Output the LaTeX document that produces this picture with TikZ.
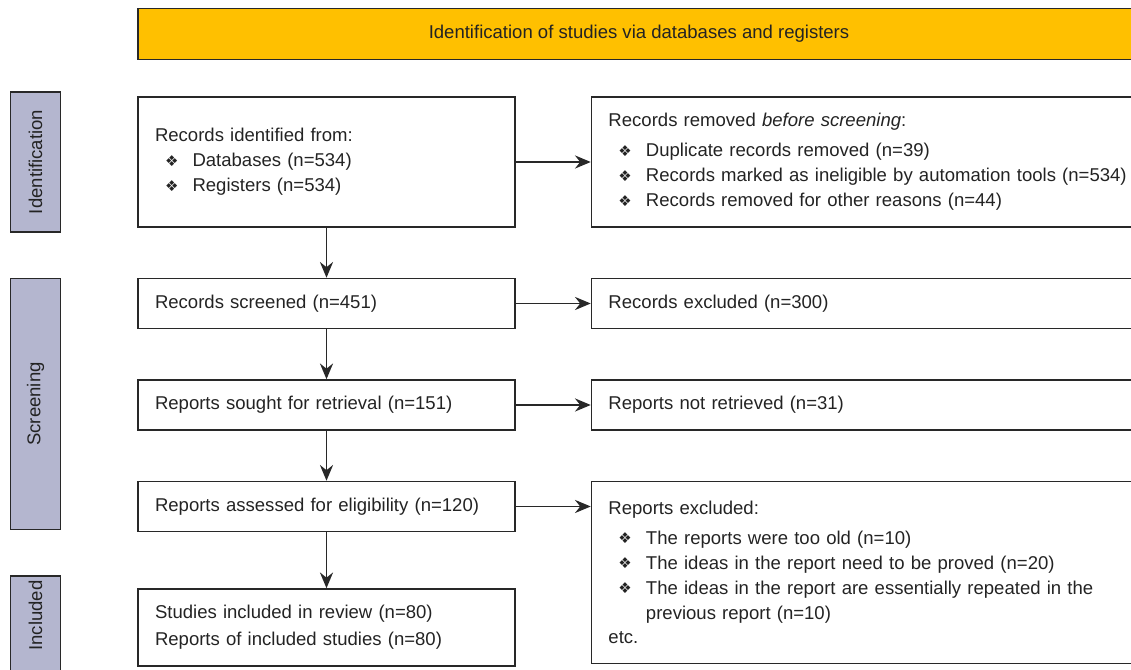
\documentclass[tikz,border=0pt]{standalone}
\usepackage{fontspec}
\setmainfont{Liberation Sans}
\newfontfamily\bulfont{DejaVu Sans}
\usetikzlibrary{positioning,chains,arrows.meta}

\definecolor{hdrorange}{RGB}{255,192,0}
\definecolor{phaseblue}{RGB}{180,182,207}
\definecolor{lineg}{RGB}{40,40,40}
\definecolor{textg}{RGB}{35,35,35}

\newcommand{\bul}{\makebox[0.75cm][l]{\hspace*{0.2cm}\raisebox{0.2pt}{\fontsize{8.5pt}{8.5pt}\selectfont\bulfont ❖}}}

\begin{document}
\begin{tikzpicture}[box/.style={draw=lineg, line width=0.85pt, rectangle, align=left, text width=6.86cm, inner xsep=0.34cm, inner ysep=2pt, minimum height=1cm},
  excl/.style={box, text width=10.8cm},
  phase/.style={draw=lineg, line width=0.85pt, fill=phaseblue, minimum width=1cm, inner sep=0pt},
  header/.style={draw=lineg, line width=0.85pt, fill=hdrorange, minimum width=20.04cm, minimum height=1.02cm},
  conn/.style={->, draw=lineg, line width=0.85pt},
  >={Stealth[length=9pt,width=7.5pt,inset=3pt]},
  font=\fontsize{10.55pt}{14.2pt}\selectfont, text=textg,
  start chain=going below, node distance=1cm]
  \useasboundingbox (0,0) rectangle (22.62,-13.4);

  % left column
  \node[box, on chain, minimum height=2.6cm] (b1) at (6.53,-3.24) {Records identified from:\\
    \bul Databases (n=534)\\
    \bul Registers (n=534)};
  \node[box, on chain] (b2) {Records screened (n=451)};
  \node[box, on chain] (b3) {Reports sought for retrieval (n=151)};
  \node[box, on chain] (b4) {Reports assessed for eligibility (n=120)};
  \node[box, on chain, yshift=-0.12cm, minimum height=1.54cm] (b5) {Studies included in review (n=80)\\[0.04cm]
    Reports of included studies (n=80)};

  % right column
  \node[excl, right=1.5cm of b1, minimum height=2.6cm] (r1) {Records removed \textit{before screening}:\\[0.1cm]
    \bul Duplicate records removed (n=39)\\
    \bul Records marked as ineligible by automation tools (n=534)\\
    \bul Records removed for other reasons (n=44)};
  \node[excl, right=1.5cm of b2] (r2) {Records excluded (n=300)};
  \node[excl, right=1.5cm of b3] (r3) {Reports not retrieved (n=31)};
  \node[excl, anchor=north west, minimum height=3.64cm] (r4) at ([xshift=1.5cm]b4.north east) {Reports excluded:\\[0.1cm]
    \bul The reports were too old (n=10)\\
    \bul The ideas in the report need to be proved (n=20)\\
    \bul The ideas in the report are essentially repeated in the\\
    \hspace*{0.75cm}previous report (n=10)\\
    etc.};

  % header and phases
  \node[header, anchor=south west] (hdr) at ([yshift=0.72cm]b1.north west) {Identification of studies via databases and registers};
  \node[phase, minimum height=2.8cm, left=1.52cm of b1] (pid) {\rotatebox{90}{Identification}};
  \node[phase, minimum height=5.02cm, anchor=north east] (pscr) at ([xshift=-1.52cm]b2.north west) {\rotatebox{90}{Screening}};
  \node[phase, minimum height=2.18cm, anchor=north east] (pinc) at ([xshift=-1.52cm,yshift=0.26cm]b5.north west) {\rotatebox{90}{\hspace*{0.6cm}Included}};

  % arrows
  \draw[conn] (b1) -- (b2);
  \draw[conn] (b2) -- (b3);
  \draw[conn] (b3) -- (b4);
  \draw[conn] (b4) -- (b5);
  \draw[conn] (b1) -- (r1);
  \draw[conn] (b2) -- (r2);
  \draw[conn] (b3) -- (r3);
  \draw[conn] (b4.east) -- (b4.east -| r4.west);
\end{tikzpicture}
\end{document}
